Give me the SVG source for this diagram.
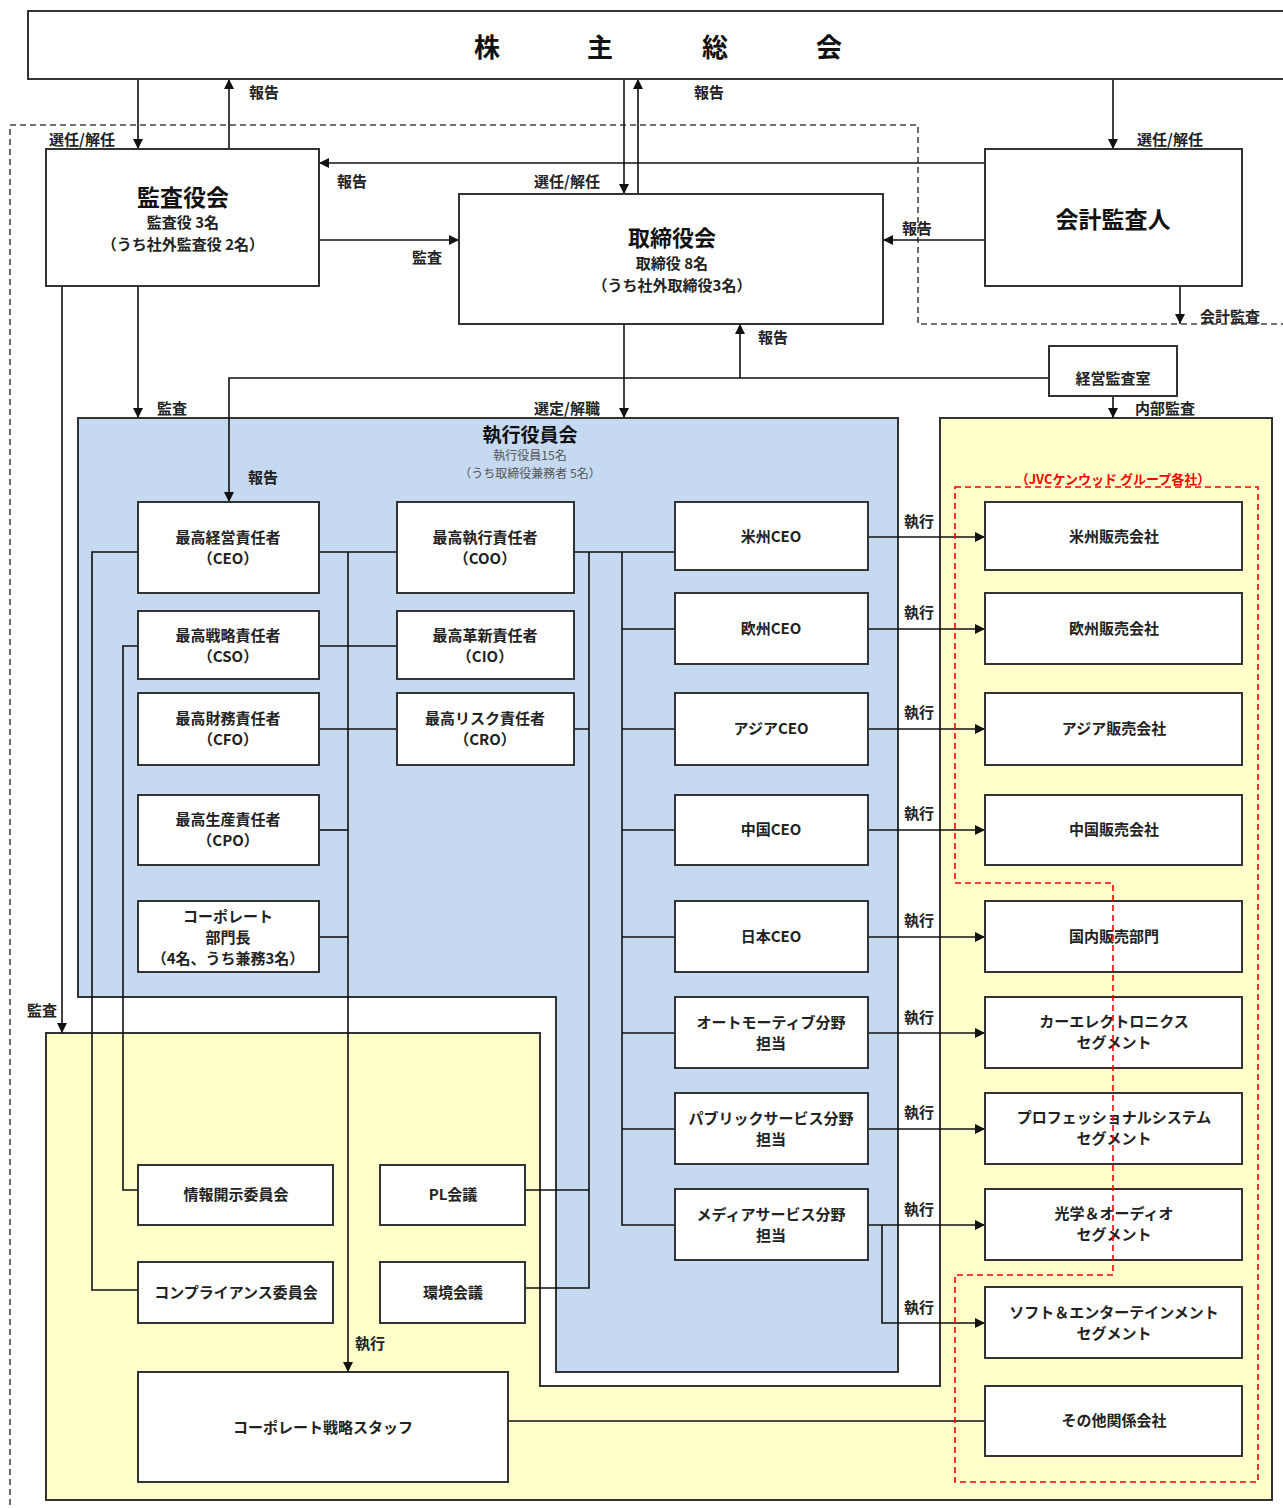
<svg xmlns="http://www.w3.org/2000/svg" width="1283" height="1508" viewBox="0 0 1283 1508">
<style>
.bx{fill:#fff;stroke:#333;stroke-width:2}
.ln{fill:none;stroke:#111;stroke-width:1.6}
.ar{fill:none;stroke:#111;stroke-width:1.6;marker-end:url(#ah)}
.t{font-family:"Noto Sans CJK JP","Noto Sans",sans-serif;font-weight:bold;fill:#222;text-anchor:middle;font-size:15px}
.tt{font-family:"Noto Sans CJK JP",sans-serif;font-weight:bold;fill:#111;text-anchor:middle}
.lb{font-family:"Noto Sans CJK JP",sans-serif;font-weight:bold;fill:#222;font-size:15px;text-anchor:middle}
.sm{font-family:"Noto Sans CJK JP",sans-serif;fill:#555;font-size:12px;text-anchor:middle}
</style>
<defs>
<marker id="ah" viewBox="0 0 10 10" refX="10" refY="5" markerWidth="11" markerHeight="10" markerUnits="userSpaceOnUse" orient="auto">
<path d="M0,0 L10,5 L0,10 z" fill="#111"/>
</marker>
</defs>
<rect width="1283" height="1508" fill="#fff"/>

<g id="regions">
<polygon points="78,418 898,418 898,1372 556,1372 556,997 78,997" fill="#c5d9f1" stroke="#333" stroke-width="2"/>
<polygon points="46,1033 540,1033 540,1386 940,1386 940,418 1272,418 1272,1500 46,1500" fill="#ffffcc" stroke="#333" stroke-width="2"/>
<path d="M10,1505 V125 H918 V324 H1290" fill="none" stroke="#444" stroke-width="1.6" stroke-dasharray="6,4"/>
</g>

<g id="connectors">
<path class="ar" d="M138,79 V149"/>
<path class="ar" d="M229,149 V79"/>
<path class="ar" d="M624,79 V194"/>
<path class="ar" d="M638,194 V79"/>
<path class="ar" d="M1113,79 V149"/>
<path class="ar" d="M985,163 H319"/>
<path class="ar" d="M319,240 H459"/>
<path class="ar" d="M985,240 H883"/>
<path class="ar" d="M1180,286 V324"/>
<path class="ar" d="M138,286 V418"/>
<path class="ar" d="M62,286 V1033"/>
<path class="ar" d="M624,324 V418"/>
<path class="ar" d="M1049,378 H229 V502"/>
<path class="ar" d="M740,378 V324"/>
<path class="ar" d="M1113,396 V418"/>
<path class="ln" d="M319,552 H397"/>
<path class="ar" d="M348,552 V1372"/>
<path class="ln" d="M319,646 H397"/>
<path class="ln" d="M319,729 H397"/>
<path class="ln" d="M319,830 H348"/>
<path class="ln" d="M319,937 H348"/>
<path class="ln" d="M574,552 H675"/>
<path class="ln" d="M622,552 V1225 H675 M622,629 H675 M622,729 H675 M622,830 H675 M622,937 H675 M622,1033 H675 M622,1129 H675"/>
<path class="ln" d="M589,552 V1288 H525 M574,729 H589 M525,1190 H589"/>
<path class="ln" d="M138,552 H92 V1290 H138"/>
<path class="ln" d="M138,646 H123 V1190 H138"/>
<path class="ar" d="M868,537 H985"/>
<path class="ar" d="M868,629 H985"/>
<path class="ar" d="M868,729 H985"/>
<path class="ar" d="M868,830 H985"/>
<path class="ar" d="M868,937 H985"/>
<path class="ar" d="M868,1033 H985"/>
<path class="ar" d="M868,1129 H985"/>
<path class="ar" d="M868,1225 H985"/>
<path class="ar" d="M882,1225 V1323 H985"/>
<path class="ln" d="M508,1421 H985"/>
</g>

<g id="edge-labels">
<text class="lb" x="82" y="145">選任/解任</text>
<text class="lb" x="264" y="98">報告</text>
<text class="lb" x="709" y="98">報告</text>
<text class="lb" x="1170" y="145">選任/解任</text>
<text class="lb" x="352" y="187">報告</text>
<text class="lb" x="567" y="187">選任/解任</text>
<text class="lb" x="427" y="263">監査</text>
<text class="lb" x="917" y="234">報告</text>
<text class="lb" x="1230" y="322">会計監査</text>
<text class="lb" x="773" y="343">報告</text>
<text class="lb" x="172" y="414">監査</text>
<text class="lb" x="567" y="414">選定/解職</text>
<text class="lb" x="1165" y="414">内部監査</text>
<text class="lb" x="263" y="483">報告</text>
<text class="lb" x="42" y="1016">監査</text>
<text class="lb" x="370" y="1349">執行</text>
<text class="lb" x="919" y="527">執行</text>
<text class="lb" x="919" y="618">執行</text>
<text class="lb" x="919" y="718">執行</text>
<text class="lb" x="919" y="819">執行</text>
<text class="lb" x="919" y="926">執行</text>
<text class="lb" x="919" y="1023">執行</text>
<text class="lb" x="919" y="1118">執行</text>
<text class="lb" x="919" y="1215">執行</text>
<text class="lb" x="919" y="1313">執行</text>
</g>

<g id="shareholders">
<rect class="bx" x="28" y="11" width="1262" height="68"/>
<text class="tt" font-size="26" x="487" y="57">株</text>
<text class="tt" font-size="26" x="600" y="57">主</text>
<text class="tt" font-size="26" x="715" y="57">総</text>
<text class="tt" font-size="26" x="829" y="57">会</text>
</g>

<g id="kansayakukai">
<rect class="bx" x="46" y="149" width="273" height="137"/>
<text class="tt" font-size="23" x="183" y="206">監査役会</text>
<text class="t" font-size="16" x="183" y="228">監査役 3名</text>
<text class="t" font-size="16" x="183" y="250">（うち社外監査役 2名）</text>
</g>

<g id="torishimariyakukai">
<rect class="bx" x="459" y="194" width="424" height="130"/>
<text class="tt" font-size="22" x="672" y="246">取締役会</text>
<text class="t" font-size="16" x="672" y="269">取締役 8名</text>
<text class="t" font-size="16" x="672" y="291">（うち社外取締役3名）</text>
</g>

<g id="kaikeikansanin">
<rect class="bx" x="985" y="149" width="257" height="137"/>
<text class="tt" font-size="23" x="1113" y="228">会計監査人</text>
</g>

<g id="keieikansashitsu">
<rect class="bx" x="1049" y="346" width="128" height="50"/>
<text class="t" x="1113" y="384">経営監査室</text>
</g>

<g id="shikkoyakuinkai">
<text class="tt" font-size="19" x="530" y="442">執行役員会</text>
<text class="sm" x="530" y="460">執行役員15名</text>
<text class="sm" x="530" y="478">（うち取締役兼務者 5名）</text>
</g>

<g id="ceo"><rect class="bx" x="138" y="502" width="181" height="91"/><text class="t" x="228" y="543">最高経営責任者</text><text class="t" x="228" y="564">（CEO）</text></g>
<g id="coo"><rect class="bx" x="397" y="502" width="177" height="91"/><text class="t" x="485" y="543">最高執行責任者</text><text class="t" x="485" y="564">（COO）</text></g>
<g id="cso"><rect class="bx" x="138" y="611" width="181" height="68"/><text class="t" x="228" y="641">最高戦略責任者</text><text class="t" x="228" y="662">（CSO）</text></g>
<g id="cio"><rect class="bx" x="397" y="611" width="177" height="68"/><text class="t" x="485" y="641">最高革新責任者</text><text class="t" x="485" y="662">（CIO）</text></g>
<g id="cfo"><rect class="bx" x="138" y="693" width="181" height="72"/><text class="t" x="228" y="724">最高財務責任者</text><text class="t" x="228" y="745">（CFO）</text></g>
<g id="cro"><rect class="bx" x="397" y="693" width="177" height="72"/><text class="t" x="485" y="724">最高リスク責任者</text><text class="t" x="485" y="745">（CRO）</text></g>
<g id="cpo"><rect class="bx" x="138" y="795" width="181" height="70"/><text class="t" x="228" y="825">最高生産責任者</text><text class="t" x="228" y="846">（CPO）</text></g>
<g id="corp-head"><rect class="bx" x="138" y="901" width="181" height="71"/><text class="t" x="228" y="922">コーポレート</text><text class="t" x="228" y="943">部門長</text><text class="t" font-size="11" x="228" y="964">（4名、うち兼務3名）</text></g>

<g id="ceo-americas"><rect class="bx" x="675" y="502" width="193" height="68"/><text class="t" x="771" y="542">米州CEO</text></g>
<g id="ceo-europe"><rect class="bx" x="675" y="593" width="193" height="71"/><text class="t" x="771" y="634">欧州CEO</text></g>
<g id="ceo-asia"><rect class="bx" x="675" y="693" width="193" height="72"/><text class="t" x="771" y="734">アジアCEO</text></g>
<g id="ceo-china"><rect class="bx" x="675" y="795" width="193" height="70"/><text class="t" x="771" y="835">中国CEO</text></g>
<g id="ceo-japan"><rect class="bx" x="675" y="901" width="193" height="71"/><text class="t" x="771" y="942">日本CEO</text></g>
<g id="automotive"><rect class="bx" x="675" y="997" width="193" height="71"/><text class="t" x="771" y="1028">オートモーティブ分野</text><text class="t" x="771" y="1049">担当</text></g>
<g id="public"><rect class="bx" x="675" y="1093" width="193" height="71"/><text class="t" x="771" y="1124">パブリックサービス分野</text><text class="t" x="771" y="1145">担当</text></g>
<g id="media"><rect class="bx" x="675" y="1189" width="193" height="71"/><text class="t" x="771" y="1220">メディアサービス分野</text><text class="t" x="771" y="1241">担当</text></g>

<g id="co-americas"><rect class="bx" x="985" y="502" width="257" height="68"/><text class="t" x="1114" y="542">米州販売会社</text></g>
<g id="co-europe"><rect class="bx" x="985" y="593" width="257" height="71"/><text class="t" x="1114" y="634">欧州販売会社</text></g>
<g id="co-asia"><rect class="bx" x="985" y="693" width="257" height="72"/><text class="t" x="1114" y="734">アジア販売会社</text></g>
<g id="co-china"><rect class="bx" x="985" y="795" width="257" height="70"/><text class="t" x="1114" y="835">中国販売会社</text></g>
<g id="domestic"><rect class="bx" x="985" y="901" width="257" height="71"/><text class="t" x="1114" y="942">国内販売部門</text></g>
<g id="car-elec"><rect class="bx" x="985" y="997" width="257" height="71"/><text class="t" x="1114" y="1027">カーエレクトロニクス</text><text class="t" x="1114" y="1048">セグメント</text></g>
<g id="professional"><rect class="bx" x="985" y="1093" width="257" height="71"/><text class="t" x="1114" y="1123">プロフェッショナルシステム</text><text class="t" x="1114" y="1144">セグメント</text></g>
<g id="optical"><rect class="bx" x="985" y="1189" width="257" height="71"/><text class="t" x="1114" y="1219">光学＆オーディオ</text><text class="t" x="1114" y="1240">セグメント</text></g>
<g id="soft-ent"><rect class="bx" x="985" y="1287" width="257" height="71"/><text class="t" x="1114" y="1318">ソフト＆エンターテインメント</text><text class="t" x="1114" y="1339">セグメント</text></g>
<g id="others"><rect class="bx" x="985" y="1386" width="257" height="70"/><text class="t" x="1114" y="1426">その他関係会社</text></g>

<g id="disclosure"><rect class="bx" x="138" y="1165" width="195" height="60"/><text class="t" x="236" y="1200">情報開示委員会</text></g>
<g id="pl"><rect class="bx" x="380" y="1165" width="145" height="60"/><text class="t" x="453" y="1200">PL会議</text></g>
<g id="compliance"><rect class="bx" x="138" y="1262" width="195" height="61"/><text class="t" x="236" y="1298">コンプライアンス委員会</text></g>
<g id="environment"><rect class="bx" x="380" y="1262" width="145" height="61"/><text class="t" x="453" y="1298">環境会議</text></g>
<g id="corp-staff"><rect class="bx" x="138" y="1372" width="370" height="110"/><text class="t" x="323" y="1433">コーポレート戦略スタッフ</text></g>

<g id="group-frame">
<polygon points="955,487 1258,487 1258,1482 955,1482 955,1275 1113,1275 1113,883 955,883" fill="none" stroke="#f00" stroke-width="1.6" stroke-dasharray="6,4"/>
<text x="1113" y="484" font-family="Noto Sans CJK JP,sans-serif" font-size="13" font-weight="bold" fill="#f00" text-anchor="middle">（JVCケンウッド グループ各社）</text>
</g>
</svg>
